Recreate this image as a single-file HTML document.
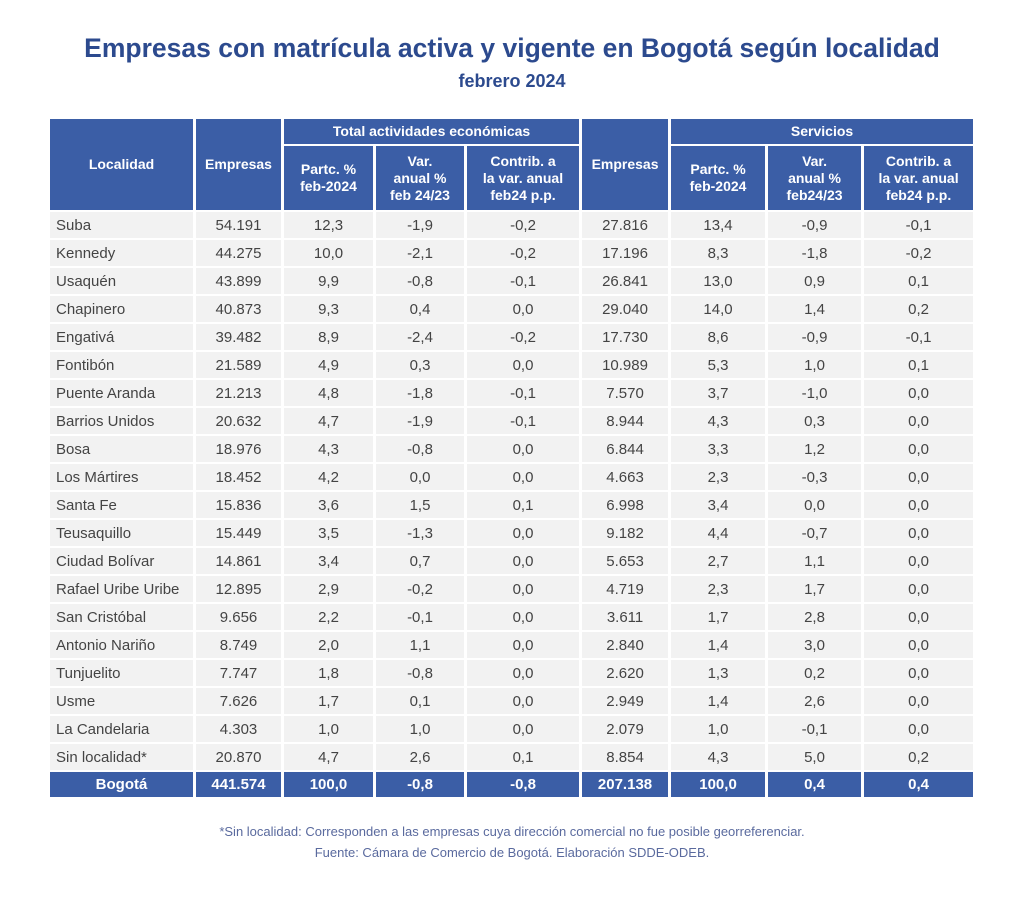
<!DOCTYPE html>
<html><head><meta charset="utf-8"><style>
body{margin:0;width:1024px;height:899px;background:#fff;font-family:"Liberation Sans",sans-serif;position:relative;overflow:hidden}
.t{position:absolute;left:0;width:1024px;text-align:center;color:#2c4a8e;font-weight:bold}
table{position:absolute;left:47px;top:117px;border-collapse:separate;border-spacing:3px 2px;table-layout:fixed;width:929px}
th{background:#3b5ea6;color:#fff;font-size:14px;font-weight:bold;line-height:17px;padding:0}
td{background:#f2f2f2;color:#444;font-size:15px;height:26px;padding:0;text-align:center}
td:first-child{text-align:left;padding-left:6px}
tr.tot td{background:#3b5ea6;color:#fff;font-weight:bold;height:25px;text-align:center;padding:0}
.f{position:absolute;left:0;width:1024px;text-align:center;color:#5a6a9e;font-size:13px}
</style></head><body>
<div class="t" style="top:33px;font-size:26.5px">Empresas con matrícula activa y vigente en Bogotá según localidad</div>
<div class="t" style="top:71px;font-size:18px">febrero 2024</div>
<table>
<colgroup><col style="width:143px"><col style="width:85px"><col style="width:89px"><col style="width:88px"><col style="width:112px"><col style="width:86px"><col style="width:94px"><col style="width:93px"><col style="width:109px"></colgroup>
<tr style="height:25px"><th rowspan="2">Localidad</th><th rowspan="2">Empresas</th><th colspan="3">Total actividades económicas</th><th rowspan="2">Empresas</th><th colspan="3">Servicios</th></tr>
<tr style="height:64px"><th>Partc. %<br>feb-2024</th><th>Var.<br>anual %<br>feb 24/23</th><th>Contrib. a<br>la var. anual<br>feb24 p.p.</th><th>Partc. %<br>feb-2024</th><th>Var.<br>anual %<br>feb24/23</th><th>Contrib. a<br>la var. anual<br>feb24 p.p.</th></tr>
<tr><td>Suba</td><td>54.191</td><td>12,3</td><td>-1,9</td><td>-0,2</td><td>27.816</td><td>13,4</td><td>-0,9</td><td>-0,1</td></tr>
<tr><td>Kennedy</td><td>44.275</td><td>10,0</td><td>-2,1</td><td>-0,2</td><td>17.196</td><td>8,3</td><td>-1,8</td><td>-0,2</td></tr>
<tr><td>Usaquén</td><td>43.899</td><td>9,9</td><td>-0,8</td><td>-0,1</td><td>26.841</td><td>13,0</td><td>0,9</td><td>0,1</td></tr>
<tr><td>Chapinero</td><td>40.873</td><td>9,3</td><td>0,4</td><td>0,0</td><td>29.040</td><td>14,0</td><td>1,4</td><td>0,2</td></tr>
<tr><td>Engativá</td><td>39.482</td><td>8,9</td><td>-2,4</td><td>-0,2</td><td>17.730</td><td>8,6</td><td>-0,9</td><td>-0,1</td></tr>
<tr><td>Fontibón</td><td>21.589</td><td>4,9</td><td>0,3</td><td>0,0</td><td>10.989</td><td>5,3</td><td>1,0</td><td>0,1</td></tr>
<tr><td>Puente Aranda</td><td>21.213</td><td>4,8</td><td>-1,8</td><td>-0,1</td><td>7.570</td><td>3,7</td><td>-1,0</td><td>0,0</td></tr>
<tr><td>Barrios Unidos</td><td>20.632</td><td>4,7</td><td>-1,9</td><td>-0,1</td><td>8.944</td><td>4,3</td><td>0,3</td><td>0,0</td></tr>
<tr><td>Bosa</td><td>18.976</td><td>4,3</td><td>-0,8</td><td>0,0</td><td>6.844</td><td>3,3</td><td>1,2</td><td>0,0</td></tr>
<tr><td>Los Mártires</td><td>18.452</td><td>4,2</td><td>0,0</td><td>0,0</td><td>4.663</td><td>2,3</td><td>-0,3</td><td>0,0</td></tr>
<tr><td>Santa Fe</td><td>15.836</td><td>3,6</td><td>1,5</td><td>0,1</td><td>6.998</td><td>3,4</td><td>0,0</td><td>0,0</td></tr>
<tr><td>Teusaquillo</td><td>15.449</td><td>3,5</td><td>-1,3</td><td>0,0</td><td>9.182</td><td>4,4</td><td>-0,7</td><td>0,0</td></tr>
<tr><td>Ciudad Bolívar</td><td>14.861</td><td>3,4</td><td>0,7</td><td>0,0</td><td>5.653</td><td>2,7</td><td>1,1</td><td>0,0</td></tr>
<tr><td>Rafael Uribe Uribe</td><td>12.895</td><td>2,9</td><td>-0,2</td><td>0,0</td><td>4.719</td><td>2,3</td><td>1,7</td><td>0,0</td></tr>
<tr><td>San Cristóbal</td><td>9.656</td><td>2,2</td><td>-0,1</td><td>0,0</td><td>3.611</td><td>1,7</td><td>2,8</td><td>0,0</td></tr>
<tr><td>Antonio Nariño</td><td>8.749</td><td>2,0</td><td>1,1</td><td>0,0</td><td>2.840</td><td>1,4</td><td>3,0</td><td>0,0</td></tr>
<tr><td>Tunjuelito</td><td>7.747</td><td>1,8</td><td>-0,8</td><td>0,0</td><td>2.620</td><td>1,3</td><td>0,2</td><td>0,0</td></tr>
<tr><td>Usme</td><td>7.626</td><td>1,7</td><td>0,1</td><td>0,0</td><td>2.949</td><td>1,4</td><td>2,6</td><td>0,0</td></tr>
<tr><td>La Candelaria</td><td>4.303</td><td>1,0</td><td>1,0</td><td>0,0</td><td>2.079</td><td>1,0</td><td>-0,1</td><td>0,0</td></tr>
<tr><td>Sin localidad*</td><td>20.870</td><td>4,7</td><td>2,6</td><td>0,1</td><td>8.854</td><td>4,3</td><td>5,0</td><td>0,2</td></tr>
<tr class="tot"><td>Bogotá</td><td>441.574</td><td>100,0</td><td>-0,8</td><td>-0,8</td><td>207.138</td><td>100,0</td><td>0,4</td><td>0,4</td></tr>
</table>
<div class="f" style="top:824px">*Sin localidad: Corresponden a las empresas cuya dirección comercial no fue posible georreferenciar.</div>
<div class="f" style="top:845px">Fuente: Cámara de Comercio de Bogotá. Elaboración SDDE-ODEB.</div>
</body></html>
